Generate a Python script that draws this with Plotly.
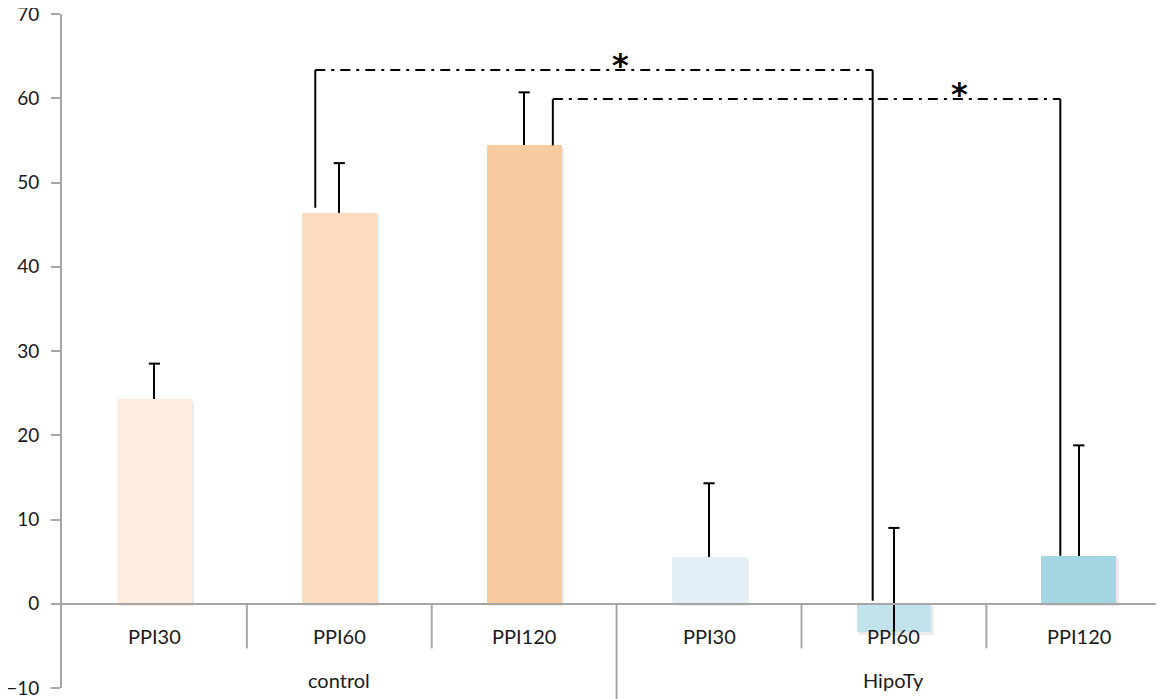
import plotly.graph_objects as go

# ---- data ----
groups = ["control", "HipoTy"]
conditions = ["PPI30", "PPI60", "PPI120"]
labels = conditions * 2
means = [24.3, 46.4, 54.4, 5.6, -3.4, 5.7]
err_plus = [4.2, 5.9, 6.3, 8.7, 12.4, 13.1]
bar_colors = ["#FDEDE0", "#FBDCBF", "#F9CBA1", "#E1EFF6", "#C3E3EC", "#A4D5E3"]
y_ticks = [-10, 0, 10, 20, 30, 40, 50, 60, 70]

# significance brackets
brackets = [
    dict(left=1, right=4, top=63.35, left_foot=47.0, right_foot=0.35, star_y=64.7),
    dict(left=2, right=5, top=59.9, left_foot=54.4, right_foot=5.7, star_y=61.2),
]
bracket_offsets = [(-0.13, -0.115), (0.155, -0.10)]
star_x = [2.52, 4.355]

x = list(range(len(labels)))
err_top = [m + e for m, e in zip(means, err_plus)]
bar_w = 0.405

fig = go.Figure()
# soft drop shadow behind bars
fig.add_trace(go.Bar(
    x=x, y=means, base=-0.3, width=bar_w, offset=-bar_w / 2 + 0.014,
    marker=dict(color="rgba(0,0,0,0.08)", line=dict(width=0)),
    showlegend=False, hoverinfo="skip",
))
fig.add_trace(go.Bar(
    x=x, y=means, width=bar_w, offset=-bar_w / 2,
    marker=dict(color=bar_colors, line=dict(width=0)),
    error_y=dict(type="data", symmetric=False, array=err_plus,
                 arrayminus=[0] * len(means), color="black",
                 thickness=2, width=0),
    showlegend=False, hoverinfo="skip",
))
# error bar caps (top only)
fig.add_trace(go.Scatter(
    x=x, y=err_top, mode="markers",
    marker=dict(symbol="line-ew", size=8, line=dict(color="black", width=2)),
    showlegend=False, hoverinfo="skip"))

for b, (ol, orr), sx in zip(brackets, bracket_offsets, star_x):
    xl = b["left"] + ol
    xr = b["right"] + orr
    fig.add_trace(go.Scatter(
        x=[xl, xl, None, xr, xr], y=[b["left_foot"], b["top"], None, b["top"], b["right_foot"]],
        mode="lines", line=dict(color="black", width=2), showlegend=False, hoverinfo="skip"))
    fig.add_trace(go.Scatter(
        x=[xl, xr], y=[b["top"], b["top"]], mode="lines",
        line=dict(color="black", width=2, dash="10px,6px,3px,6px"),
        showlegend=False, hoverinfo="skip"))
    fig.add_annotation(x=sx, y=b["star_y"], xref="x", yref="y", text="<b>*</b>",
                       showarrow=False, yanchor="middle", yshift=-6,
                       font=dict(family="DejaVu Sans", size=32, color="black"))

# x labels (PPI row) and group labels
for i, lab in enumerate(labels):
    fig.add_annotation(x=i, y=-3.85, xref="x", yref="y", text=lab, showarrow=False,
                       font=dict(family="Lato", size=20, color="#1a1a1a"))
for gi, g in enumerate(groups):
    fig.add_annotation(x=gi * 3 + 1, y=-9.05, xref="x", yref="y", text=g, showarrow=False,
                       font=dict(family="Lato", size=20, color="#1a1a1a"))

# dividers
div_color = "#A6A6A6"
for xv in [0.5, 1.5, 3.5, 4.5]:
    fig.add_shape(type="line", xref="x", yref="y", x0=xv, x1=xv, y0=0, y1=-5.3,
                  line=dict(color=div_color, width=2))
fig.add_shape(type="line", xref="x", yref="paper", x0=2.5, x1=2.5, y0=0.125, y1=-0.02,
              line=dict(color=div_color, width=2))

# page body has an 8px default margin, so the figure is sized to fit the window
fig.update_layout(
    width=1156, height=691,
    margin=dict(l=54, r=2, t=6, b=11, autoexpand=False),
    paper_bgcolor="white", plot_bgcolor="white",
    bargap=0, barmode="overlay",
    xaxis=dict(range=[-0.5, 5.45], showticklabels=False, ticks="", showgrid=False,
               zeroline=False, showline=True, linecolor=div_color, linewidth=2,
               anchor="free", position=0.125, automargin=False),
    yaxis=dict(range=[-10, 70], tickvals=y_ticks, showgrid=False, zeroline=False,
               showline=True, linecolor=div_color, linewidth=2,
               ticks="outside", ticklen=9, tickwidth=2, tickcolor=div_color,
               ticklabelstandoff=8, automargin=False, ticklabeloverflow="allow",
               tickfont=dict(family="Lato", size=19, color="#1a1a1a")),
)

fig.write_html("out.html")
